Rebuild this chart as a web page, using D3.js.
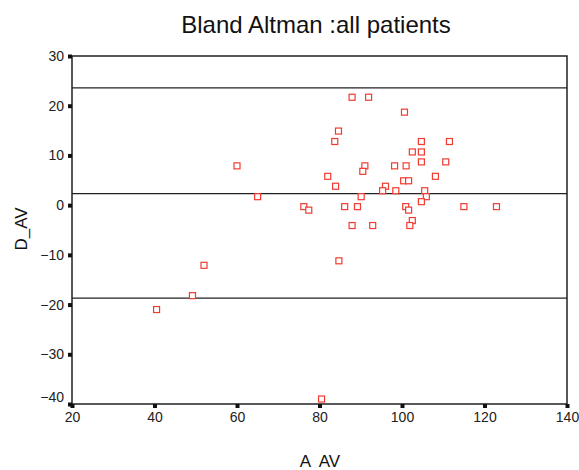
<!DOCTYPE html>
<html lang="en">
<head>
<meta charset="UTF-8">
<title>Bland Altman :all patients</title>
<style>
    body { margin: 0; background: #fff; }
    svg { font-family: "Liberation Sans", Arial, sans-serif; }
    .tick text { fill: #222; font-size: 14px; }
</style>
</head>
<body>
<svg width="579" height="470"></svg>
<script src="https://d3js.org/d3.v7.min.js"></script>
<script>
// average of the two measurements (A_AV) and their difference (D_AV)
const avgValues = [87.9, 91.9, 100.6, 84.6, 83.7, 104.7, 111.5, 102.5, 104.7, 104.7,
    110.6, 60.0, 91.0, 90.5, 98.2, 101.0, 82.0, 108.1, 83.9, 100.4,
    101.6, 96.0, 95.3, 98.5, 105.5, 105.9, 104.7, 65.0, 90.1, 76.2,
    77.4, 86.1, 89.2, 100.9, 101.6, 115.0, 122.9, 102.5, 101.9, 87.9,
    92.9, 84.7, 52.0, 49.2, 40.5, 80.5];
const diffValues = [21.7, 21.7, 18.7, 14.9, 12.8, 12.8, 12.8, 10.7, 10.7, 8.7,
    8.7, 7.9, 7.9, 6.8, 7.9, 7.9, 5.8, 5.8, 3.8, 4.9,
    4.9, 3.8, 2.9, 2.9, 2.9, 1.7, 0.7, 1.7, 1.7, -0.3,
    -1.0, -0.3, -0.3, -0.3, -1.0, -0.3, -0.3, -3.1, -4.1, -4.1,
    -4.1, -11.2, -12.1, -18.2, -21.0, -39.0];
// mean difference and limits of agreement
const refLines = [23.6, 2.3, -18.7];
const xTicks = [20, 40, 60, 80, 100, 120, 140];
const yTicks = [30, 20, 10, 0, -10, -20, -30, -40];

const svg = d3.select("svg");
const plotL = 72, plotR = 567, plotT = 56, plotB = 404;

const x = d3.scaleLinear().domain([20, 140]).range([plotL, plotR]);
const y = d3.scaleLinear().domain([-40, 30]).range([plotB, plotT]);

// title
svg.append("text")
    .attr("x", 316).attr("y", 33)
    .attr("text-anchor", "middle")
    .attr("font-size", 24)
    .attr("fill", "#111")
    .text("Bland Altman :all patients");

// frame
svg.append("rect")
    .attr("x", plotL).attr("y", plotT)
    .attr("width", plotR - plotL).attr("height", plotB - plotT)
    .attr("fill", "none").attr("stroke", "#222").attr("stroke-width", 1.5);

// reference lines
svg.selectAll(".ref").data(refLines).enter().append("line")
    .attr("class", "ref")
    .attr("x1", plotL).attr("x2", plotR)
    .attr("y1", d => y(d)).attr("y2", d => y(d))
    .attr("stroke", "#222").attr("stroke-width", 1.2);

// axes
const xAxis = svg.append("g")
    .attr("transform", `translate(0,${plotB})`)
    .call(d3.axisBottom(x).tickValues(xTicks).tickSize(0).tickPadding(8));
const yAxis = svg.append("g")
    .attr("transform", `translate(${plotL},0)`)
    .call(d3.axisLeft(y).tickValues(yTicks).tickSize(0).tickPadding(8));
xAxis.select(".domain").remove();
yAxis.select(".domain").remove();
// lift the -40 label so it clears the 20 below it
yAxis.selectAll(".tick text").filter(d => d === -40).attr("y", -7);

// tick markers: little filled squares outside the frame
xAxis.selectAll(".tick").append("rect")
    .attr("x", -2).attr("y", 0).attr("width", 4).attr("height", 4)
    .attr("fill", "#111");
yAxis.selectAll(".tick").append("rect")
    .attr("x", -4).attr("y", -2).attr("width", 4).attr("height", 4)
    .attr("fill", "#111");

// axis titles
svg.append("text")
    .attr("x", 320).attr("y", 467)
    .attr("text-anchor", "middle")
    .attr("font-size", 17).attr("fill", "#111")
    .style("white-space", "pre")
    .text("A  AV");
svg.append("text")
    .attr("transform", "translate(27,229) rotate(-90)")
    .attr("text-anchor", "middle")
    .attr("font-size", 17).attr("fill", "#111")
    .text("D_AV");

// points
svg.selectAll(".pt").data(avgValues).enter().append("rect")
    .attr("class", "pt")
    .attr("x", (d, i) => x(d) - 3)
    .attr("y", (d, i) => y(diffValues[i]) - 3)
    .attr("width", 6).attr("height", 6)
    .attr("fill", "#fff")
    .attr("stroke", "#f23b30").attr("stroke-width", 1.2);
</script>
</body>
</html>
